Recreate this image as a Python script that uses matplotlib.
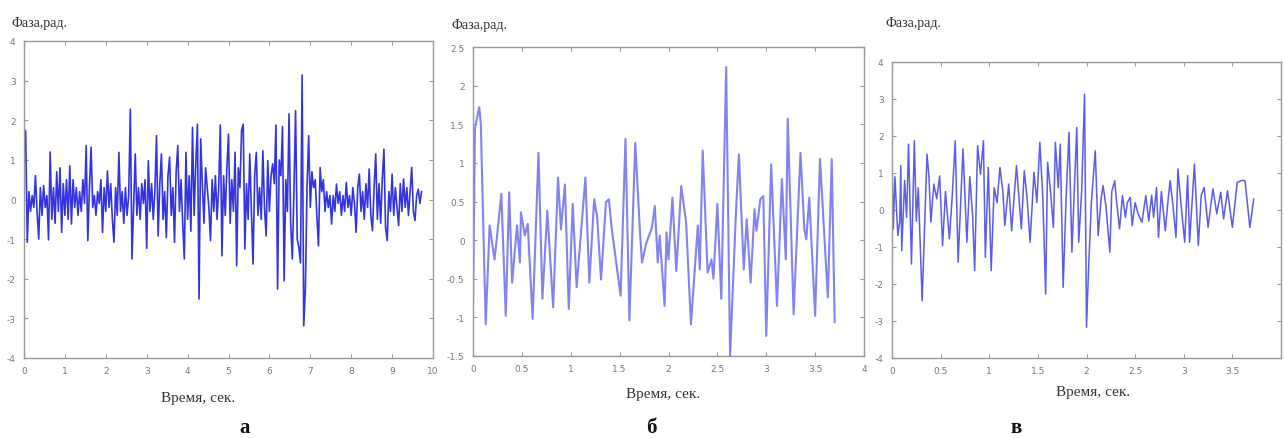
import matplotlib
matplotlib.use("Agg")
import matplotlib.pyplot as plt
import numpy as np
from matplotlib.ticker import FuncFormatter

# ---------------- data ----------------
# panel a: uniform sampling, dt = 0.04 s
dt_a = 0.04
phase_a = [
    1.2, 1.74, -1.08, 0.2, -0.3, 0.1, -0.2, 0.6, -0.3, -1.0, 0.3, -0.4, 0.35, -0.2, 0.1, -1.02, 1.2, -0.5, 0.3, -0.6, 0.7, -0.3, 0.8, -0.83, 0.4,
    -0.4, 0.5, -0.5, 0.85, -0.62, 0.5, -0.2, 0.3, -0.4, 0.2, -0.3, 0.5, -0.1, 1.36, -1.04, 0.3, 1.32, -0.2, 0.1, -0.4, 0.2, -0.1, 0.5, -0.83, 0.3,
    -0.3, 0.72, -0.2, 0.4, -0.5, -1.08, 0.3, -0.4, 1.19, -0.3, 0.2, -0.6, 0.3, -0.4, 0.1, 2.28, -1.5, -0.2, 1.15, -0.4, 0.3, -0.5, 0.4, -0.1, 0.5,
    -1.23, 0.98, -0.3, 0.4, -0.5, 0.2, 1.61, -0.92, 0.4, 1.15, -0.5, 0.2, -0.96, 0.6, 1.07, -0.4, 0.3, -1.08, 0.7, 1.36, -0.3, 0.5, -0.6, -1.5, 1.19,
    -0.5, 0.6, -0.8, 1.82, -0.4, 0.9, 1.9, -2.51, 1.53, 0.4, -0.6, 0.8, 0.3, -0.2, -1.04, 0.5, -0.3, 0.6, -0.5, 0.3, 1.88, -1.42, 0.6, -0.4, 0.8,
    1.65, -0.6, 0.5, -0.3, 1.19, -1.67, 0.8, 0.3, 1.74, 1.9, -1.25, 0.4, -0.5, 1.15, -0.3, -1.63, 0.6, 1.19, -0.4, 0.3, -0.5, 1.23, -0.2, -0.92, 0.98,
    -0.3, 0.6, 0.9, 0.4, 1.88, -2.26, 1.0, 0.6, 1.84, -2.05, 0.5, -0.3, 2.16, -0.6, -1.5, 0.2, 2.24, -1.0, -1.2, -1.6, 3.14, -3.19, -2.22, 0.3, 1.61,
    -0.2, 0.7, 0.3, 0.5, -0.4, -1.17, 0.81, 0.2, 0.5, -0.3, 0.2, -0.2, 0.1, -0.62, 0.1, -0.3, 0.39, -0.1, 0.2, -0.4, 0.1, -0.3, 0.43, -0.2, 0.1,
    -0.4, 0.3, -0.1, -0.83, 0.3, 0.64, -0.3, 0.2, -0.5, 0.4, -0.2, 0.77, -0.4, -0.79, 0.3, 1.15, -0.5, 0.4, -0.6, 0.5, 1.27, -0.7, -1.04, 0.2, -0.3,
    0.64, -0.4, 0.3, -0.2, -0.66, 0.4, -0.3, 0.52, -0.2, 0.3, -0.4, 0.2, 0.81, -0.3, -0.53, 0.1, 0.26, -0.1, 0.2,
]

# panel b
time_b = [0.00, 0.02, 0.064, 0.08, 0.13, 0.17, 0.22, 0.25, 0.29, 0.335, 0.37, 0.40, 0.45, 0.48, 0.49, 0.53, 0.56,
          0.61, 0.67, 0.71, 0.76, 0.82, 0.87, 0.90, 0.94, 0.98, 1.02, 1.06, 1.15, 1.19, 1.24, 1.27, 1.31, 1.36,
          1.39, 1.42, 1.51, 1.56, 1.60, 1.66, 1.71, 1.73, 1.77, 1.83, 1.86, 1.89, 1.91, 1.96, 1.98, 2.00, 2.04,
          2.08, 2.13, 2.18, 2.23, 2.30, 2.32, 2.35, 2.40, 2.44, 2.46, 2.50, 2.54, 2.59, 2.63, 2.69, 2.72, 2.77,
          2.80, 2.84, 2.88, 2.90, 2.94, 2.97, 3.00, 3.05, 3.11, 3.16, 3.20, 3.22, 3.28, 3.35, 3.39, 3.41, 3.44,
          3.50, 3.55, 3.63, 3.67, 3.70]
phase_b = [-0.90, 1.45, 1.72, 1.50, -1.09, 0.19, -0.25, 0.10, 0.60, -0.98, 0.62, -0.55, 0.19, -0.29, 0.36, 0.06, 0.21,
           -1.02, 1.13, -0.76, 0.38, -0.87, 0.81, 0.14, 0.72, -0.89, 0.47, -0.61, 0.81, -0.55, 0.53, 0.30, -0.51, 0.49,
           0.53, 0.14, -0.72, 1.31, -1.04, 1.26, 0.06, -0.29, -0.05, 0.16, 0.44, -0.29, 0.06, -0.85, 0.10, -0.25, 0.55,
           -0.40, 0.70, 0.23, -1.09, 0.19, -0.38, 1.16, -0.42, -0.25, -0.50, 0.47, -0.76, 2.24, -1.50, 0.36, 1.11, -0.38,
           0.27, -0.55, 0.40, 0.12, 0.53, 0.57, -1.24, 0.98, -0.85, 0.79, -0.25, 1.57, -0.96, 1.13, 0.14, 0.01, 0.55,
           -0.98, 1.05, -0.74, 1.05, -1.06]

# panel v
time_v = [0.00, 0.013, 0.03, 0.06, 0.08, 0.09, 0.10, 0.13, 0.15, 0.17, 0.20, 0.23, 0.25, 0.27, 0.31, 0.36, 0.38,
          0.40, 0.43, 0.46, 0.49, 0.52, 0.55, 0.59, 0.62, 0.65, 0.68, 0.73, 0.77, 0.80, 0.83, 0.85, 0.88, 0.91,
          0.94, 0.96, 0.99, 1.02, 1.05, 1.08, 1.11, 1.14, 1.16, 1.20, 1.23, 1.28, 1.33, 1.36, 1.39, 1.42, 1.46,
          1.49, 1.52, 1.55, 1.58, 1.60, 1.63, 1.66, 1.68, 1.71, 1.73, 1.76, 1.79, 1.82, 1.85, 1.88, 1.90, 1.92,
          1.95, 1.98, 2.00, 2.02, 2.05, 2.09, 2.12, 2.15, 2.17, 2.20, 2.24, 2.26, 2.29, 2.31, 2.34, 2.37, 2.40,
          2.42, 2.45, 2.47, 2.50, 2.53, 2.57, 2.61, 2.64, 2.67, 2.69, 2.72, 2.74, 2.77, 2.81, 2.84, 2.86, 2.89,
          2.92, 2.94, 2.97, 3.01, 3.04, 3.06, 3.11, 3.15, 3.18, 3.21, 3.25, 3.30, 3.34, 3.38, 3.41, 3.45, 3.50,
          3.55, 3.60, 3.63, 3.68, 3.72]
phase_v = [1.38, -0.51, 0.9, -0.69, -0.3, 1.2, -1.10, 0.8, -0.2, 1.78, -1.46, 1.87, -0.3, 0.6, -2.45, 1.51, 0.9,
           -0.33, 0.7, 0.3, 0.92, -0.96, 0.5, -0.78, 0.4, 1.87, -1.41, 1.65, -0.87, 0.9, -0.2, -1.64, 1.74, 0.97,
           1.87, -1.28, 1.15, -1.64, 0.6, 0.2, 1.15, 0.5, -0.42, 0.7, -0.56, 1.20, -0.51, 1.06, 0.3, -0.87, 1.02,
           0.2, 1.83, 0.4, -2.27, 1.29, 0.5, -0.47, 1.83, 0.6, 1.78, -2.09, 0.3, 2.10, -1.14, 0.9, 2.23, -0.87,
           0.5, 3.13, -3.17, -1.68, 0.2, 1.60, -0.69, 0.3, 0.66, 0.1, -1.14, 0.5, 0.79, 0.2, -0.51, 0.39, -0.2,
           0.2, 0.34, -0.42, 0.2, -0.1, -0.33, 0.39, -0.3, 0.4, -0.2, 0.61, -0.74, 0.5, -0.56, 0.3, 0.79, 0.1,
           -0.74, 1.11, 0.2, -0.87, 0.93, -0.87, 1.24, -0.96, 0.4, 0.61, -0.47, 0.57, -0.1, 0.48, -0.24, 0.52, -0.47,
           0.75, 0.8, 0.79, -0.47, 0.30]

ylabel_text = "Фаза,рад."
xlabel_text = "Время, сек."
panel_labels = ["а", "б", "в"]

# ---------------- figure ----------------
W, H = 1284, 439
fig = plt.figure(figsize=(W / 100, H / 100), dpi=100)

def px_axes(left, right, top, bottom):
    return fig.add_axes([left / W, 1 - bottom / H, (right - left) / W, (bottom - top) / H])

axes_px = [(24, 433, 42, 359), (473, 864, 48, 357), (892, 1281, 63, 359)]
xlims = [(0, 10), (0, 4), (0, 4)]
ylims = [(-4, 4), (-1.5, 2.5), (-4, 4)]
xticks = [np.arange(0, 11, 1), np.arange(0, 4.01, 0.5), np.arange(0, 4.01, 0.5)]
yticks = [np.arange(-4, 5, 1), np.arange(-1.5, 2.51, 0.5), np.arange(-4, 5, 1)]
hide_last_xlabel = [False, False, True]
colors = ["#3434de", "#8383ef", "#5c5ce8"]
lws = [1.2, 1.5, 1.1]

t_a = np.arange(len(phase_a)) * dt_a
series = [(t_a, phase_a), (time_b, phase_b), (time_v, phase_v)]

ylab_pos = [(12, 23), (452, 25), (886, 23)]
xlab_pos = [(198, 399), (663, 395), (1093, 393)]
plab_pos = [(245, 428), (651, 428), (1016, 428)]

for i in range(3):
    ax = px_axes(*axes_px[i])
    t, v = series[i]
    ax.plot(t, v, color=colors[i], lw=lws[i])
    ax.set_xlim(*xlims[i])
    ax.set_ylim(*ylims[i])
    ax.set_xticks(xticks[i])
    ax.set_yticks(yticks[i])
    last = xticks[i][-1]
    hide = hide_last_xlabel[i]
    ax.xaxis.set_major_formatter(FuncFormatter(
        lambda val, p, last=last, hide=hide: "" if (hide and abs(val - last) < 1e-9) else "%g" % val))
    ax.yaxis.set_major_formatter(FuncFormatter(lambda val, p: "%g" % val))
    ax.tick_params(direction="in", length=3, width=0.8, colors="#999999",
                   labelcolor="#777777", labelsize=6.5, top=True, right=True, pad=6)
    for s in ax.spines.values():
        s.set_color("#999999")
        s.set_linewidth(1.0)
    fig.text(ylab_pos[i][0] / W, 1 - ylab_pos[i][1] / H, ylabel_text,
             family="Liberation Serif", fontsize=10, color="#333333", ha="left", va="center")
    fig.text(xlab_pos[i][0] / W, 1 - xlab_pos[i][1] / H, xlabel_text,
             family="Liberation Serif", fontsize=11, color="#333333", ha="center", va="center")
    fig.text(plab_pos[i][0] / W, 1 - plab_pos[i][1] / H, panel_labels[i],
             family="Liberation Serif", fontsize=15, fontweight="bold", color="#111111",
             ha="center", va="center")

fig.savefig("out.png", dpi=100)
